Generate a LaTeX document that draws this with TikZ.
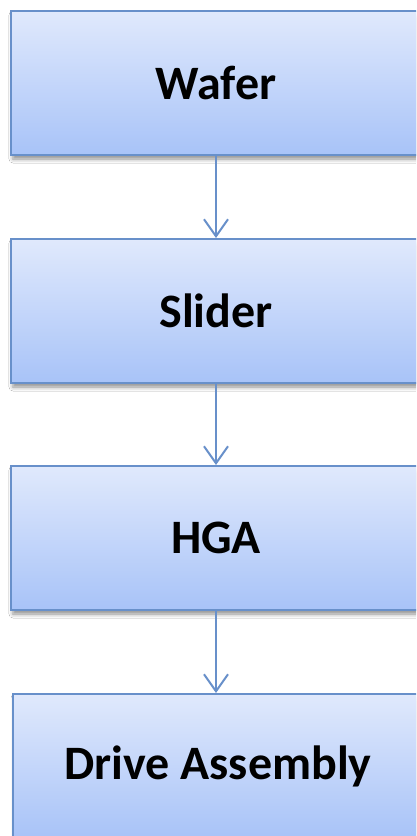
\documentclass[tikz,border=0pt]{standalone}
\usepackage{fontspec}
\setmainfont{Carlito}
\usetikzlibrary{arrows.meta,shadows.blur}
\definecolor{boxtop}{HTML}{E0E9FC}
\definecolor{boxbot}{HTML}{A8C3F8}
\definecolor{edge}{HTML}{6890CA}
\tikzset{
  stagebox/.style={rectangle, draw=edge, line width=2pt,
    top color=boxtop, bottom color=boxbot,
    minimum width=410pt, minimum height=144pt, inner sep=0pt,
    font=\fontsize{48}{56}\selectfont\bfseries, text=black,
    blur shadow={shadow xshift=2pt, shadow yshift=-4pt, shadow blur radius=4pt, shadow opacity=45}},
  flow/.style={draw=edge, line width=2pt,
    -{Straight Barb[length=17pt, width=24pt, line width=2pt]}}
}
\begin{document}
\begin{tikzpicture}[x=1pt,y=-1pt]
  \useasboundingbox (0,0) rectangle (416,836);
  \clip (0,0) rectangle (416,836);
  \fill[white] (0,0) rectangle (416,836);
  \node[stagebox] (wafer)  at (216,83)  {Wafer};
  \node[stagebox] (slider) at (216,311) {Slider};
  \node[stagebox] (hga)    at (216,538) {HGA};
  \node[stagebox] (drive)  at (218,766) {Drive Assembly};
  \draw[flow] (wafer.south)  -- (slider.north);
  \draw[flow] (slider.south) -- (hga.north);
  \draw[flow] (hga.south)    -- (drive.north -| hga.south);
\end{tikzpicture}
\end{document}
